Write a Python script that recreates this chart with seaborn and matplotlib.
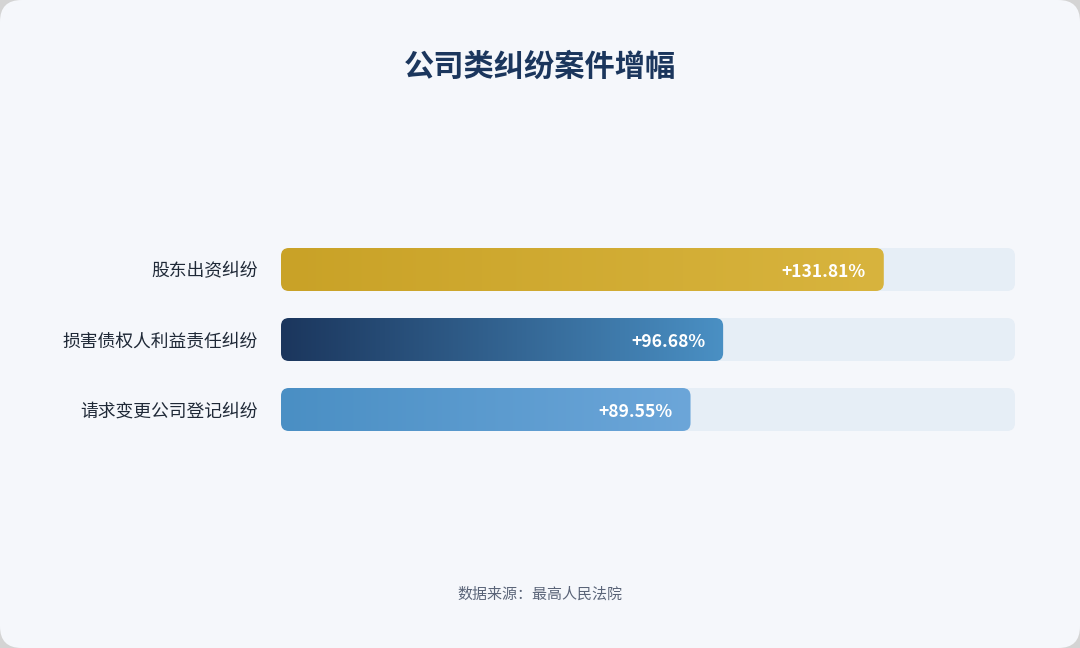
import numpy as np
import pandas as pd
import seaborn as sns
import matplotlib.pyplot as plt
from matplotlib.patches import FancyBboxPatch
from matplotlib.colors import LinearSegmentedColormap

# data
categories = ["股东出资纠纷", "损害债权人利益责任纠纷", "请求变更公司登记纠纷"]
growth = [131.81, 96.68, 89.55]
value_labels = ["+131.81%", "+96.68%", "+89.55%"]
gradients = [("#c9a227", "#d8b43e"), ("#1b365d", "#4a90c4"), ("#4a8fc4", "#6ca6d9")]
x_max = 160.5

sns.set_theme(style="white")
plt.rcParams['font.family'] = ['Noto Sans CJK SC', 'DejaVu Sans']

fig = plt.figure(figsize=(10.8, 6.48), dpi=100)
fig.patch.set_facecolor("#d4d4d4")

# rounded card behind everything
card = FancyBboxPatch((0, 0), 1, 1, boxstyle="round,pad=0,rounding_size=0.02",
                      mutation_aspect=1080 / 648, transform=fig.transFigure,
                      facecolor="#f5f7fb", edgecolor="none", zorder=0)
fig.add_artist(card)

ax = fig.add_axes([281 / 1080, 1 - 444.5 / 648, 734 / 1080, 210 / 648])
ax.set_facecolor("none")

df = pd.DataFrame({"category": categories, "growth": growth})
sns.barplot(data=df, x="growth", y="category", orient="h", width=43 / 70,
            color="#cccccc", ax=ax)

ax.set_xlim(0, x_max)
ax.set_ylim(2.5, -0.5)

# rounding of bar corners (8 px), corrected for non-square data units
px_x = x_max / 734
px_y = 1 / 70
r = 8 * px_x
aspect = px_y / px_x

for i, bar in enumerate(list(ax.patches)):
    x0, y0 = bar.get_x(), bar.get_y()
    w, h = bar.get_width(), bar.get_height()
    bar.set_visible(False)

    track = FancyBboxPatch((0, y0), x_max, h, boxstyle=f"round,pad=0,rounding_size={r}",
                           mutation_aspect=aspect, facecolor="#e6eef6", edgecolor="none", zorder=1)
    ax.add_patch(track)

    shape = FancyBboxPatch((x0, y0), w, h, boxstyle=f"round,pad=0,rounding_size={r}",
                           mutation_aspect=aspect, facecolor="none", edgecolor="none", zorder=2)
    ax.add_patch(shape)
    cmap = LinearSegmentedColormap.from_list(f"g{i}", gradients[i])
    img = ax.imshow(np.linspace(0, 1, 256).reshape(1, -1), cmap=cmap, aspect="auto",
                    extent=(x0, x0 + w, y0 + h, y0), zorder=2, interpolation="bicubic")
    img.set_clip_path(shape)

    ax.annotate(value_labels[i], xy=(x0 + w, i), xytext=(-13, -1.5), textcoords="offset points",
                ha="right", va="center", color="white", fontsize=12.6, fontweight="bold", zorder=3)

ax.set_xlim(0, x_max)
ax.set_ylim(2.5, -0.5)
ax.set_xlabel("")
ax.set_ylabel("")
ax.set_xticks([])
ax.tick_params(axis="y", length=0, pad=16.5, labelsize=12.8, labelcolor="#1f2937")
for lbl in ax.get_yticklabels():
    lbl.set_fontweight("medium")
sns.despine(ax=ax, left=True, bottom=True)

fig.text(0.5, 1 - 67 / 648, "公司类纠纷案件增幅", ha="center", va="center",
         fontsize=21.8, fontweight="bold", color="#1b365d")
fig.text(0.5, 1 - 594 / 648, "数据来源：最高人民法院", ha="center", va="center",
         fontsize=10.8, color="#5a6478")

fig.savefig("out.png", dpi=100, facecolor=fig.get_facecolor())
